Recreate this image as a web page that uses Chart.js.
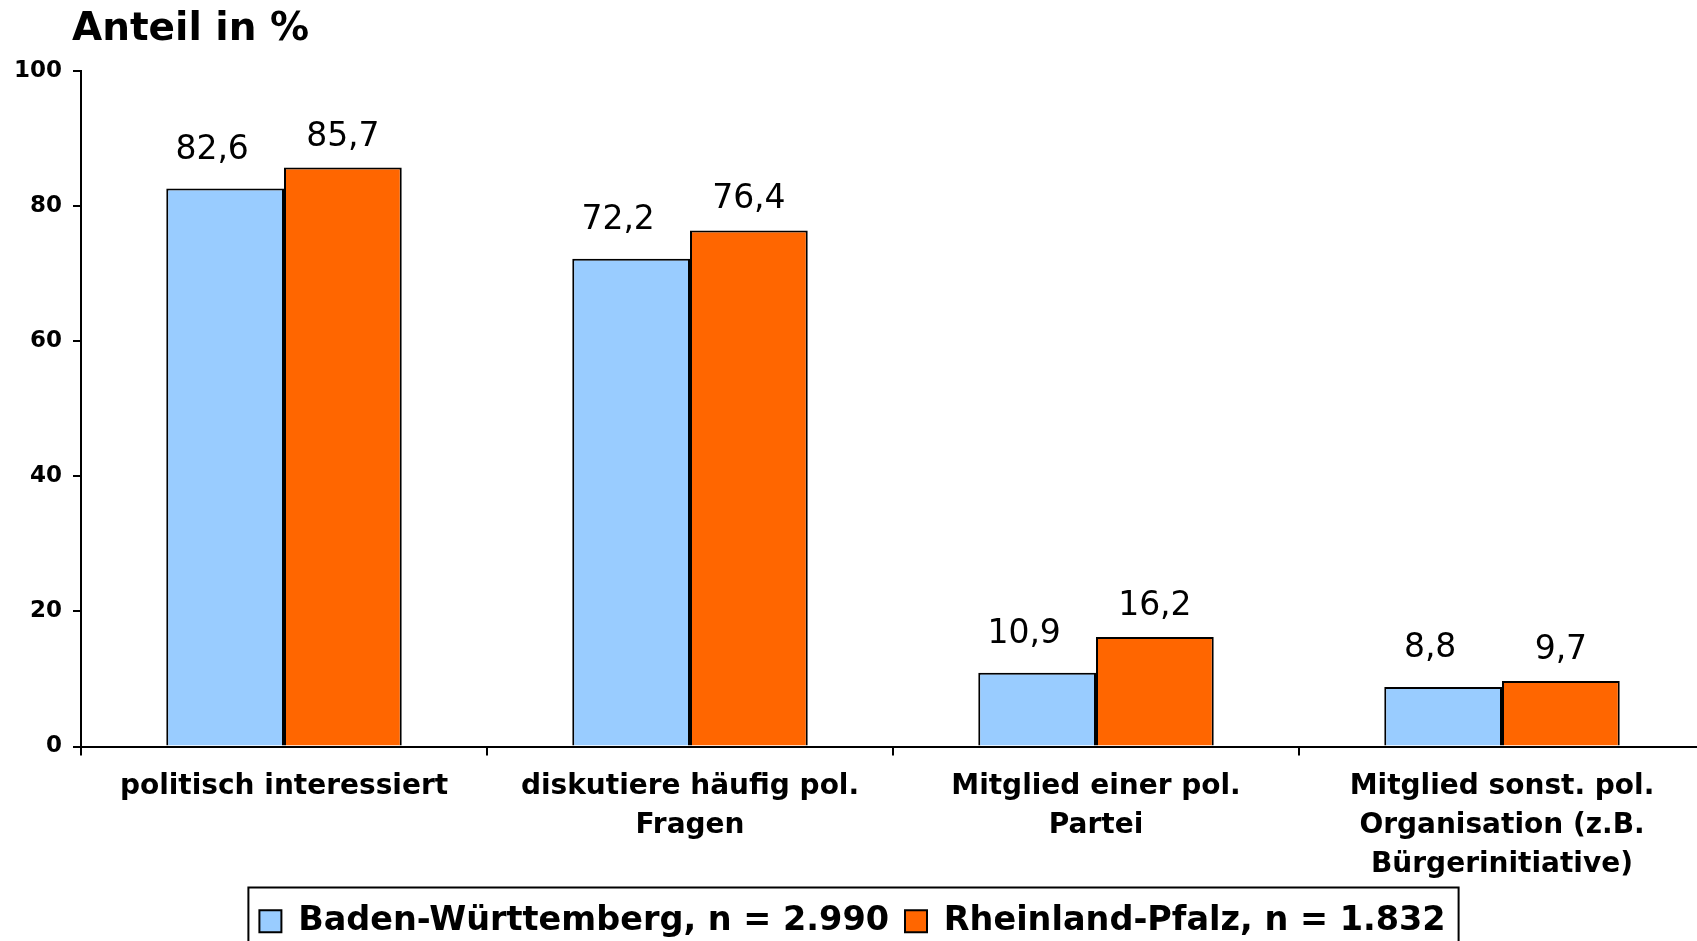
<!DOCTYPE html>
<html>
<head>
<meta charset="utf-8">
<script src="https://cdn.jsdelivr.net/npm/chart.js@4.4.1/dist/chart.umd.min.js"></script>
<style>
html, body { margin: 0; padding: 0; background: #fff; overflow: hidden; }
canvas { display: block; }
</style>
</head>
<body>
<canvas id="chart" width="1705" height="948"></canvas>
<script>
// values
const categories = [
    ["politisch interessiert"],
    ["diskutiere häufig pol.", "Fragen"],
    ["Mitglied einer pol.", "Partei"],
    ["Mitglied sonst. pol.", "Organisation (z.B.", "Bürgerinitiative)"]
];
const badenWuerttemberg = [82.6, 72.2, 10.9, 8.8];
const rheinlandPfalz = [85.7, 76.4, 16.2, 9.7];
const seriesNames = ["Baden-Württemberg, n = 2.990", "Rheinland-Pfalz, n = 1.832"];
const seriesColors = ["#99CCFF", "#FF6600"];
const yTicks = [0, 20, 40, 60, 80, 100];
const chartTitle = "Anteil in %";

const FONT = '"DejaVu Sans", Verdana, sans-serif';

function formatValue(v) {
    return v.toFixed(1).replace(".", ",");
}

const titlePlugin = {
    id: "topTitle",
    afterDraw(chart) {
        const ctx = chart.ctx;
        ctx.save();
        ctx.font = "bold 39px " + FONT;
        ctx.fillStyle = "#000";
        ctx.textAlign = "left";
        ctx.textBaseline = "alphabetic";
        ctx.fillText(chartTitle, 72, 40);
        ctx.restore();
    }
};

const valueLabels = {
    id: "valueLabels",
    afterDatasetsDraw(chart) {
        const ctx = chart.ctx;
        ctx.save();
        ctx.font = "33px " + FONT;
        ctx.fillStyle = "#000";
        ctx.textAlign = "center";
        ctx.textBaseline = "alphabetic";
        chart.data.datasets.forEach(function(ds, i) {
            const meta = chart.getDatasetMeta(i);
            const dx = i === 0 ? -13 : 0;
            const gap = i === 0 ? 30 : 22;
            meta.data.forEach(function(bar, j) {
                ctx.fillText(formatValue(ds.data[j]), bar.x + dx, bar.y - gap);
            });
        });
        ctx.restore();
    }
};

const legendFrame = {
    id: "legendFrame",
    afterDraw(chart) {
        const boxes = chart.legend.legendHitBoxes;
        if (!boxes || !boxes.length) {
            return;
        }
        let left = Infinity, right = -Infinity, top = Infinity;
        boxes.forEach(function(b) {
            left = Math.min(left, b.left);
            right = Math.max(right, b.left + b.width);
            top = Math.min(top, b.top);
        });
        const ctx = chart.ctx;
        ctx.save();
        ctx.strokeStyle = "#000";
        ctx.lineWidth = 2;
        ctx.strokeRect(left - 11, top - 17, right - left + 24, chart.height - top + 40);
        ctx.restore();
    }
};

new Chart(document.getElementById("chart"), {
    type: "bar",
    data: {
        labels: categories,
        datasets: [
            {
                label: seriesNames[0],
                data: badenWuerttemberg,
                backgroundColor: seriesColors[0],
                borderColor: "#000",
                borderWidth: 2
            },
            {
                label: seriesNames[1],
                data: rheinlandPfalz,
                backgroundColor: seriesColors[1],
                borderColor: "#000",
                borderWidth: 2
            }
        ]
    },
    options: {
        responsive: false,
        animation: false,
        layout: { padding: { top: 71, left: 0, right: 0, bottom: 0 } },
        datasets: {
            bar: { barPercentage: 1, categoryPercentage: 0.58 }
        },
        plugins: {
            title: { display: false },
            tooltip: { enabled: false },
            legend: {
                position: "bottom",
                labels: {
                    color: "#000",
                    font: { family: FONT, size: 33.5, weight: "bold" },
                    boxWidth: 22,
                    boxHeight: 22,
                    padding: 16
                }
            }
        },
        scales: {
            x: {
                grid: {
                    offset: true,
                    drawOnChartArea: false,
                    drawTicks: true,
                    tickLength: 9,
                    color: "#000",
                    lineWidth: 2
                },
                border: { display: true, color: "#000", width: 2 },
                ticks: {
                    color: "#000",
                    padding: 11,
                    maxRotation: 0,
                    autoSkip: false,
                    font: { family: FONT, size: 28, weight: "bold", lineHeight: 1.41 }
                },
                afterFit(scale) {
                    scale.height = 142;
                }
            },
            y: {
                min: 0,
                max: 100,
                afterBuildTicks(scale) {
                    scale.ticks = yTicks.map(function(v) { return { value: v }; });
                },
                grid: {
                    drawOnChartArea: false,
                    drawTicks: true,
                    tickLength: 8,
                    color: "#000",
                    lineWidth: 2
                },
                border: { display: true, color: "#000", width: 2 },
                ticks: {
                    color: "#000",
                    padding: 11,
                    font: { family: FONT, size: 23, weight: "bold" }
                },
                afterFit(scale) {
                    scale.width = 81;
                }
            }
        }
    },
    plugins: [titlePlugin, valueLabels, legendFrame]
});
</script>
</body>
</html>
